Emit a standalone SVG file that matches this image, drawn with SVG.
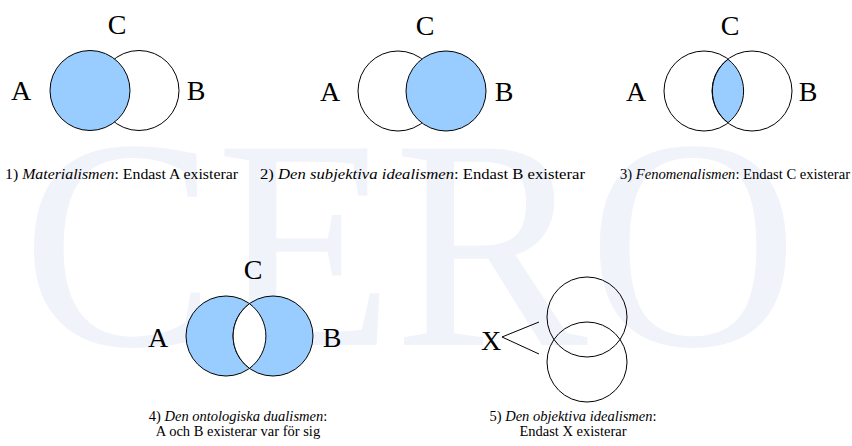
<svg xmlns="http://www.w3.org/2000/svg" width="852" height="446" viewBox="0 0 852 446">
  <style>
    .c { stroke: #000; stroke-width: 1; fill: #fff; }
    .f { fill: #99ccff; }
    text { font-family: 'Liberation Serif', 'Times New Roman', 'DejaVu Serif', serif; fill: #000; }
    .lbl { font-size: 28px; }
    .cap { font-size: 14.5px; }
    .wm { font-size: 300px; fill: #f1f3fb; }
  </style>
  <rect width="852" height="446" fill="#fff"/>
  <g id="watermark">
    <text class="wm" font-family="Liberation Serif, serif" x="22" y="345" textLength="776" lengthAdjust="spacingAndGlyphs">CERO</text>
  </g>

  <g id="d1">
    <circle class="c" cx="139" cy="90.5" r="40"/>
    <circle class="c f" cx="90" cy="90.5" r="40"/>
    <text class="lbl" font-family="Liberation Serif, serif" x="117" y="34" text-anchor="middle">C</text>
    <text class="lbl" font-family="Liberation Serif, serif" x="21" y="100" text-anchor="middle">A</text>
    <text class="lbl" font-family="Liberation Serif, serif" x="196" y="100" text-anchor="middle">B</text>
    <text class="cap" font-family="Liberation Serif, serif" x="5" y="179" textLength="233" lengthAdjust="spacingAndGlyphs">1) <tspan font-style="italic">Materialismen</tspan>: Endast A existerar</text>
  </g>

  <g id="d2">
    <circle class="c" cx="398" cy="91" r="40"/>
    <circle class="c f" cx="446" cy="91" r="40"/>
    <text class="lbl" font-family="Liberation Serif, serif" x="425" y="35" text-anchor="middle">C</text>
    <text class="lbl" font-family="Liberation Serif, serif" x="330" y="101" text-anchor="middle">A</text>
    <text class="lbl" font-family="Liberation Serif, serif" x="504" y="101" text-anchor="middle">B</text>
    <text class="cap" font-family="Liberation Serif, serif" x="260" y="179" textLength="325" lengthAdjust="spacingAndGlyphs">2) <tspan font-style="italic">Den subjektiva idealismen</tspan>: Endast B existerar</text>
  </g>

  <g id="d3">
    <circle class="c" cx="704" cy="91" r="40"/>
    <circle class="c" cx="752" cy="91" r="40"/>
    <path class="c f" d="M728 59.3 A40 40 0 0 1 728 122.7 A40 40 0 0 1 728 59.3 Z"/>
    <text class="lbl" font-family="Liberation Serif, serif" x="730" y="35" text-anchor="middle">C</text>
    <text class="lbl" font-family="Liberation Serif, serif" x="636" y="101" text-anchor="middle">A</text>
    <text class="lbl" font-family="Liberation Serif, serif" x="808" y="101" text-anchor="middle">B</text>
    <text class="cap" font-family="Liberation Serif, serif" x="620" y="179" textLength="230" lengthAdjust="spacingAndGlyphs">3) <tspan font-style="italic">Fenomenalismen</tspan>: Endast C existerar</text>
  </g>

  <g id="d4">
    <circle class="c f" cx="226" cy="336" r="40"/>
    <circle class="c f" cx="273" cy="336" r="40"/>
    <path class="c" d="M249.5 303.7 A40 40 0 0 1 249.5 368.3 A40 40 0 0 1 249.5 303.7 Z"/>
    <text class="lbl" font-family="Liberation Serif, serif" x="253" y="279" text-anchor="middle">C</text>
    <text class="lbl" font-family="Liberation Serif, serif" x="158" y="347" text-anchor="middle">A</text>
    <text class="lbl" font-family="Liberation Serif, serif" x="332" y="347" text-anchor="middle">B</text>
    <text class="cap" font-family="Liberation Serif, serif" x="238" y="421" text-anchor="middle">4) <tspan font-style="italic">Den ontologiska dualismen</tspan>:</text>
    <text class="cap" font-family="Liberation Serif, serif" x="238" y="436" text-anchor="middle">A och B existerar var för sig</text>
  </g>

  <g id="d5">
    <circle cx="587" cy="317" r="40" fill="none" stroke="#000"/>
    <circle cx="587" cy="362" r="40" fill="none" stroke="#000"/>
    <text class="lbl" font-family="Liberation Serif, serif" x="491" y="350" text-anchor="middle">X</text>
    <text class="cap" font-family="Liberation Serif, serif" x="573" y="421" text-anchor="middle">5) <tspan font-style="italic">Den objektiva idealismen</tspan>:</text>
    <text class="cap" font-family="Liberation Serif, serif" x="573" y="436" text-anchor="middle">Endast X existerar</text>
  </g>

  <g id="connectors" stroke="#000" stroke-width="1" fill="none">
    <path d="M539 322 L502 337 L539 354"/>
  </g>
</svg>
